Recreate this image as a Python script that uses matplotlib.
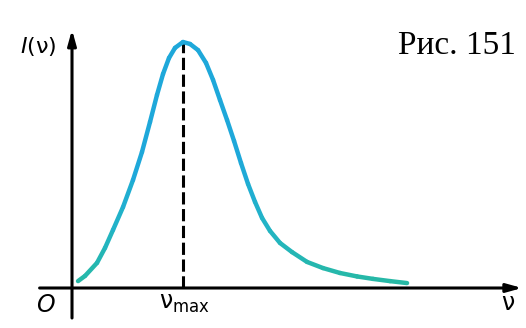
import numpy as np
import matplotlib.pyplot as plt
from matplotlib.collections import LineCollection
from matplotlib.colors import LinearSegmentedColormap

# Spectral curve I(nu), arbitrary units (peak normalised to 1)
nu = [0.167, 0.361, 0.694, 0.917, 1.139, 1.417, 1.694, 1.944, 2.167, 2.361,
      2.528, 2.694, 2.861, 3.083, 3.278, 3.500, 3.722, 3.917, 4.111, 4.306,
      4.500, 4.694, 4.889, 5.083, 5.278, 5.500, 5.778, 6.111, 6.528, 6.972,
      7.444, 7.917, 8.361, 8.833, 9.306]
intensity = [0.028, 0.049, 0.102, 0.163, 0.236, 0.329, 0.439, 0.553, 0.675, 0.785,
             0.870, 0.935, 0.976, 1.000, 0.992, 0.967, 0.915, 0.846, 0.764, 0.683,
             0.598, 0.508, 0.423, 0.350, 0.285, 0.232, 0.183, 0.146, 0.106, 0.081,
             0.061, 0.047, 0.037, 0.028, 0.020]
nu_max = 3.083
fig_label = "Рис. 151"

fig = plt.figure(figsize=(5.26, 3.28), dpi=100)
ax = fig.add_axes([0, 0, 1, 1])
ax.set_xlim(-2.0, 12.61)
ax.set_ylim(-0.1626, 1.1707)
ax.axis("off")

# axes with arrows
arrow = dict(arrowstyle="-|>,head_length=0.9,head_width=0.25", color="black", lw=2.2,
             shrinkA=0, shrinkB=0)
ax.annotate("", xy=(12.5, 0), xytext=(-0.9, 0), arrowprops=arrow)
ax.annotate("", xy=(0, 1.05), xytext=(0, -0.122), arrowprops=arrow)

# curve, teal near the axis turning blue towards the peak
pts = np.column_stack([nu, intensity])
segs = np.stack([pts[:-1], pts[1:]], axis=1)
mid = (np.array(intensity[:-1]) + np.array(intensity[1:])) / 2
cmap = LinearSegmentedColormap.from_list(
    "curve", [(0.0, "#27b9a2"), (0.25, "#22b4c6"), (0.5, "#1ea8da"), (1.0, "#1ea8da")])
lc = LineCollection(segs, colors=cmap(mid), linewidths=3.2, capstyle="round",
                    joinstyle="round", zorder=3)
ax.add_collection(lc)

# peak marker line
ax.plot([nu_max, nu_max], [0, max(intensity)], color="black", lw=2.2,
        linestyle=(0, (4, 1.5)), zorder=2)

# labels
ax.text(-0.95, 0.98, "$I$(ν)", fontsize=16, ha="center", va="center")
ax.text(-0.75, -0.07, "O", fontsize=17, ha="center", va="center", style="italic")
ax.text(nu_max + 0.05, -0.06, "ν$_{\\rm max}$", fontsize=17, ha="center", va="center")
ax.text(12.1, -0.06, "ν", fontsize=17, ha="center", va="center")
ax.text(10.7, 0.985, fig_label, fontsize=24, ha="center", va="center",
        family="Liberation Serif")

fig.savefig("out.png", dpi=100)
